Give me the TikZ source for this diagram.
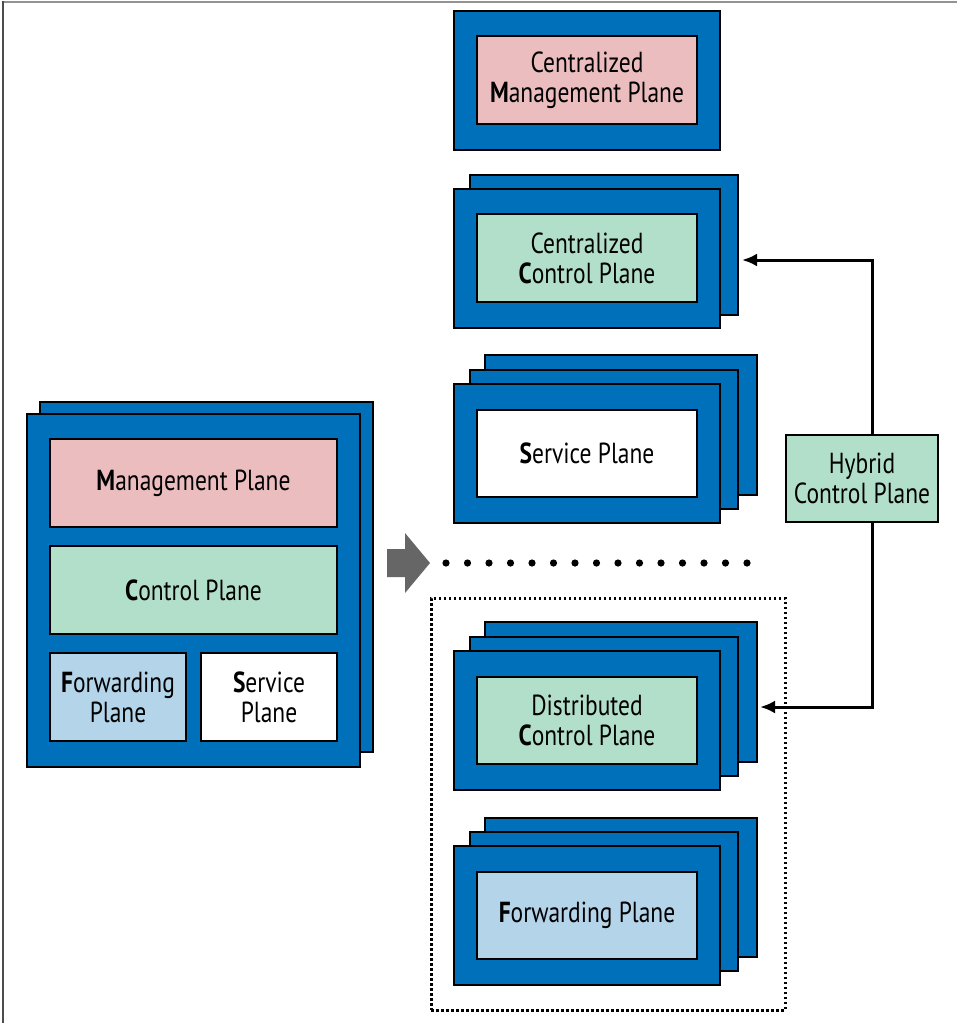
\documentclass[tikz,border=0pt]{standalone}
\usepackage{fontspec}
\setmainfont{PT Sans}[FakeStretch=0.81]
\usetikzlibrary{arrows.meta}
\definecolor{cblue}{RGB}{0,112,186}
\definecolor{cpink}{RGB}{235,189,191}
\definecolor{cgreen}{RGB}{178,223,202}
\definecolor{clblue}{RGB}{180,212,234}
\definecolor{cgray}{RGB}{102,102,102}
\begin{document}
\begin{tikzpicture}[x=1pt,y=-1pt,
  bluebox/.style={draw=black,fill=cblue,line width=2pt,inner sep=0pt,outer sep=0pt},
  planebox/.style={draw=black,line width=2pt,inner sep=0pt,outer sep=0pt,align=center,
     font=\fontsize{29}{30}\selectfont},
  hyconn/.style={line width=3pt,-{Latex[length=15pt,width=13pt]}},
  every node/.append style={text=black}]
\useasboundingbox (0,0) rectangle (957,1023);
\fill[white] (0,0) rectangle (957,1023);
\draw[gray!85,line width=2pt] (3,2) -- (957,2);
\draw[black!70,line width=2pt] (3,1) -- (3,1023);

% left stack
\node[bluebox,minimum width=333pt,minimum height=350pt] (lback) at (206.5,577) {};
\node[bluebox,minimum width=333pt,minimum height=353pt] (lfront) at (193.5,590.5) {};
\node[planebox,fill=cpink,minimum width=287pt,minimum height=88pt] (mgmt) at (193.5,483) {\textbf{M}anagement Plane};
\node[planebox,fill=cgreen,minimum width=287pt,minimum height=88pt] (ctrl) at (193.5,590) {\textbf{C}ontrol Plane};
\node[planebox,fill=clblue,minimum width=136pt,minimum height=88pt] (fwd) at (118,697) {\textbf{F}orwarding\\Plane};
\node[planebox,fill=white,minimum width=136pt,minimum height=88pt] (svc) at (269,697) {\textbf{S}ervice\\Plane};

% centralized management
\node[bluebox,minimum width=266pt,minimum height=139pt] (cmfront) at (587,80.5) {};
\node[planebox,fill=cpink,minimum width=220pt,minimum height=88pt] (cm) at (587,80) {Centralized\\\textbf{M}anagement Plane};

% centralized control
\node[bluebox,minimum width=268pt,minimum height=140pt] (ccback) at (604,245) {};
\node[bluebox,minimum width=266pt,minimum height=139pt] (ccfront) at (587,258.5) {};
\node[planebox,fill=cgreen,minimum width=220pt,minimum height=88pt] (cc) at (587,258) {Centralized\\\textbf{C}ontrol Plane};

% service plane stack
\node[bluebox,minimum width=272pt,minimum height=140pt] (spback) at (621,425) {};
\node[bluebox,minimum width=268pt,minimum height=139pt] (spmid) at (604,439.5) {};
\node[bluebox,minimum width=266pt,minimum height=139pt] (spfront) at (587,453.5) {};
\node[planebox,fill=white,minimum width=220pt,minimum height=87pt] (sp) at (587,453.5) {\textbf{S}ervice Plane};

% distributed control stack
\node[bluebox,minimum width=272pt,minimum height=140pt] (dcback) at (621,692) {};
\node[bluebox,minimum width=268pt,minimum height=139pt] (dcmid) at (604,706.5) {};
\node[bluebox,minimum width=266pt,minimum height=139pt] (dcfront) at (587,720.5) {};
\node[planebox,fill=cgreen,minimum width=220pt,minimum height=87pt] (dc) at (587,720.5) {Distributed\\\textbf{C}ontrol Plane};

% forwarding stack
\node[bluebox,minimum width=272pt,minimum height=139pt] (fpback) at (621,887.5) {};
\node[bluebox,minimum width=268pt,minimum height=139pt] (fpmid) at (604,901.5) {};
\node[bluebox,minimum width=266pt,minimum height=139pt] (fpfront) at (587,915.5) {};
\node[planebox,fill=clblue,minimum width=220pt,minimum height=87pt] (fp) at (587,915.5) {\textbf{F}orwarding Plane};

% dotted group
\node[draw=black,line width=3pt,dash pattern=on 2.5pt off 2.5pt,minimum width=354pt,minimum height=412pt,inner sep=0pt] (grp) at (608,804) {};

% hybrid
\node[planebox,fill=cgreen,minimum width=152pt,minimum height=87pt] (hyb) at (862,478.5) {Hybrid\\Control Plane};

% connectors
\coordinate (t1) at (742,260);
\coordinate (t2) at (760,707);
\draw[hyconn] ([xshift=10pt]hyb.north) |- (t1);
\draw[hyconn] ([xshift=10pt]hyb.south) |- (t2);

% gray arrow
\fill[cgray] (387,549) -- (405,549) -- (405,533) -- (430,563) -- (405,593) -- (405,577) -- (387,577) -- cycle;

% dots
\foreach \i in {0,...,14} {
  \fill[black] (446+21.5*\i,563) circle (3.6pt);
}
\end{tikzpicture}
\end{document}
